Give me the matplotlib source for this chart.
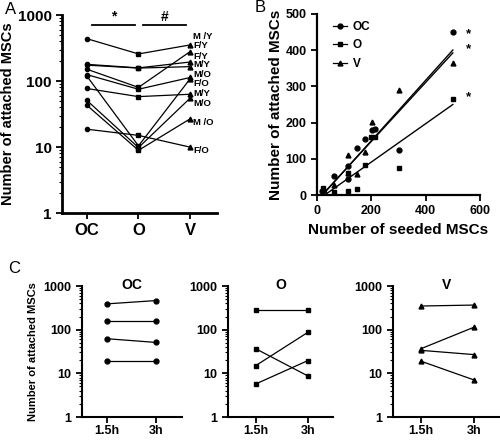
import matplotlib
matplotlib.use("Agg")
import matplotlib.pyplot as plt
import numpy as np
from matplotlib.ticker import LogLocator, NullFormatter

plt.rcParams['font.family'] = ['Liberation Sans', 'DejaVu Sans']
plt.rcParams['font.weight'] = 'bold'

# ---------------- Panel A data ----------------
groups_A = ["OC", "O", "V"]
a_oc = [438, 179, 174, 151, 125, 119, 77, 51, 43, 18.6]
a_o = [257, 158, 157, 80, 75, 10.4, 58, 9.8, 8.9, 15]
a_v = [352, 194, 165, 279, 113, 108, 63, 55, 26.7, 9.95]
donor_labels = ["M /Y", "F/Y", "F/Y", "M/Y", "M/O", "F/O", "M/Y", "M/O", "M /O", "F/O"]
label_pos = [475, 350, 237, 176, 125, 92, 64, 45, 23.7, 8.8]

# ---------------- Panel B data ----------------
b_oc_x = [20, 61, 113, 113, 149, 178, 202, 214, 300, 500]
b_oc_y = [10, 52, 81, 44, 130, 154, 180, 182, 124, 451]
b_o_x = [21, 64, 113, 113, 149, 178, 200, 214, 300, 500]
b_o_y = [20, 9, 10, 60, 16, 83, 161, 161, 74, 265]
b_v_x = [27, 61, 113, 113, 149, 178, 202, 300, 500]
b_v_y = [14, 28, 110, 60, 57, 118, 202, 290, 366]
fit_names = ["OC", "O", "V"]
fit_slope = [0.835, 0.53, 0.815]
fit_intercept = [-17, -15, -15]

# ---------------- Panel C data ----------------
times = ["1.5h", "3h"]
c_oc = [[390, 464], [156, 156], [62, 51], [18.8, 18.8]]
c_o = [[281, 281], [36.6, 8.7], [15, 87], [5.7, 19.6]]
c_v = [[348, 366], [36.6, 113], [33.6, 26.9], [19, 7.1]]

W, H = 500, 440
fig = plt.figure(figsize=(5, 4.4), dpi=100)


def frac(l, r, t, b):
    return [l / W, 1 - b / H, (r - l) / W, (b - t) / H]


def style_axes(ax, lw=1.6):
    for s in ['top', 'right']:
        ax.spines[s].set_visible(False)
    for s in ['left', 'bottom']:
        ax.spines[s].set_linewidth(lw)
    ax.tick_params(which='major', length=4, width=1.3, direction='out')
    ax.tick_params(which='minor', length=2, width=0.8, direction='out')


def log_axis(ax, fs):
    ax.set_yscale('log')
    ax.set_ylim(1, 1000)
    ax.set_yticks([1, 10, 100, 1000])
    ax.set_yticklabels(["1", "10", "100", "1000"], fontsize=fs, fontweight='bold')
    ax.yaxis.set_minor_locator(LogLocator(base=10, subs=np.arange(2, 10)))
    ax.yaxis.set_minor_formatter(NullFormatter())


# ---------------- Panel A ----------------
axA = fig.add_axes(frac(62, 217, 15, 213))
style_axes(axA, 2.0)
log_axis(axA, 11)
xA = np.arange(3)
for i in range(len(a_oc)):
    axA.plot(xA[:2], [a_oc[i], a_o[i]], color='black', lw=0.9)
    axA.plot(xA[1:], [a_o[i], a_v[i]], color='black', lw=0.9)
    axA.plot(xA[0], a_oc[i], 'o', color='black', ms=3)
    axA.plot(xA[1], a_o[i], 's', color='black', ms=3.5)
    axA.plot(xA[2], a_v[i], '^', color='black', ms=3.5)
for lab, yp in zip(donor_labels, label_pos):
    axA.text(2.06, yp, lab, fontsize=6.8, fontweight='bold', va='center', ha='left')
axA.set_xlim(-0.48, 2.52)
axA.set_xticks(xA)
axA.set_xticklabels(groups_A, fontsize=12, fontweight='bold')
axA.set_ylabel("Number of attached MSCs", fontsize=10.5, fontweight='bold', labelpad=2)
axA.plot([0.11, 0.93], [706, 706], color='black', lw=1.3, clip_on=False)
axA.plot([1.08, 1.92], [706, 706], color='black', lw=1.3, clip_on=False)
axA.text(0.52, 740, "*", ha='center', va='bottom', fontsize=10, fontweight='bold')
axA.text(1.5, 740, "#", ha='center', va='bottom', fontsize=10, fontweight='bold')

# ---------------- Panel B ----------------
axB = fig.add_axes(frac(317, 480, 14, 195))
style_axes(axB, 1.6)
axB.plot(b_oc_x, b_oc_y, 'o', color='black', ms=3.5, label='OC')
axB.plot(b_o_x, b_o_y, 's', color='black', ms=3.5, label='O')
axB.plot(b_v_x, b_v_y, '^', color='black', ms=3.5, label='V')
for m, c in zip(fit_slope, fit_intercept):
    x0 = -c / m
    xs = np.array([x0, 500])
    axB.plot(xs, m * xs + c, color='black', lw=1.0)
axB.set_xlim(0, 600)
axB.set_ylim(0, 500)
axB.set_xticks([0, 200, 400, 600])
axB.set_yticks([0, 100, 200, 300, 400, 500])
axB.tick_params(labelsize=9)
for t in axB.get_xticklabels() + axB.get_yticklabels():
    t.set_fontweight('bold')
axB.set_xlabel("Number of seeded MSCs", fontsize=11, fontweight='bold')
axB.set_ylabel("Number of attached MSCs", fontsize=11, fontweight='bold', labelpad=2)
leg = axB.legend(loc='upper left', bbox_to_anchor=(0.03, 1.02), frameon=False,
                 handlelength=1.2, labelspacing=0.55, handletextpad=0.5,
                 prop={'weight': 'bold', 'size': 8.5})
for lh in leg.get_lines():
    lh.set_linestyle('-')
    lh.set_linewidth(0.9)
for yv in [443, 403, 271]:
    axB.text(556, yv, "*", fontsize=9.5, ha='center', va='center', clip_on=False)

# ---------------- Panel C ----------------
def panel_c(rect, data, marker, title, ylabel):
    ax = fig.add_axes(rect)
    style_axes(ax, 1.5)
    log_axis(ax, 9)
    for pair in data:
        ax.plot([0, 1], pair, '-', marker=marker, color='black', lw=0.9, ms=3.5)
    ax.set_xticks([0, 1])
    ax.set_xticklabels(times, fontsize=9, fontweight='bold')
    ax.tick_params(axis='x', pad=1.5)
    ax.set_title(title, fontsize=10, fontweight='bold', pad=-2, y=1.0)
    if ylabel:
        ax.set_ylabel("Number of attached MSCs", fontsize=8, fontweight='bold', labelpad=4)
    return ax


axC1 = panel_c(frac(82, 182, 286, 417), c_oc, 'o', "OC", True)
axC1.set_xlim(-0.51, 1.53)
axC2 = panel_c(frac(228, 333, 286, 417), c_o, 's', "O", False)
axC2.set_xlim(-0.53, 1.48)
axC3 = panel_c(frac(393, 500, 286, 417), c_v, '^', "V", False)
axC3.set_xlim(-0.53, 1.5)

# panel letters
fig.text(5 / W, 1 - 10 / H, "A", fontsize=12, fontweight='normal', va='center')
fig.text(255 / W, 1 - 8 / H, "B", fontsize=12, fontweight='normal', va='center')
fig.text(8 / W, 1 - 268 / H, "C", fontsize=12, fontweight='normal', va='center')

fig.savefig("out.png", dpi=100)
